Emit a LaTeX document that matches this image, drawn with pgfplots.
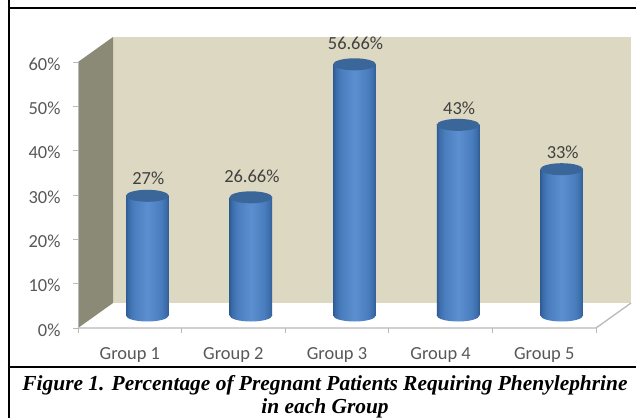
\documentclass[border=0pt]{standalone}
\usepackage{pgfplots}
\usepackage{pgfplotstable}
\pgfplotsset{compat=1.18}
\usepackage{fontspec}
\setmainfont{Carlito}
\newfontfamily\capfont{Liberation Serif}
\definecolor{wall}{HTML}{DCD8C1}
\definecolor{swall}{HTML}{8B8A76}
\definecolor{edge}{HTML}{B9B9B9}
\definecolor{tl}{HTML}{585858}
\definecolor{dl}{HTML}{404040}
\definecolor{bd}{HTML}{3A6699}
\definecolor{ca}{HTML}{2F5C95}
\definecolor{cb}{HTML}{3C6DAA}
\definecolor{cc}{HTML}{4A7DBE}
\definecolor{cd}{HTML}{5B8FD0}
\pgfdeclarehorizontalshading{cyl}{100bp}{
  color(0bp)=(ca);
  color(25bp)=(ca);
  color(28bp)=(cb);
  color(34bp)=(cc);
  color(50bp)=(cd);
  color(66bp)=(cc);
  color(72bp)=(cb);
  color(75bp)=(ca);
  color(100bp)=(ca)}
\pgfdeclareplotmark{cylbase}{\path[draw=none,shading=cyl] (0,0) ellipse (21.3bp and 6bp);}
\pgfdeclareplotmark{cyltop}{\path[draw=none,fill=bd,rotate=4] (0,0) ellipse (21.4bp and 6bp);}
\pgfplotstableread{
x y lab dy
0.5 27 27 18
1.5 26.66 26.66 21
2.5 56.66 56.66 21
3.5 43 43 17
4.5 33 33 17
}\cyltab
\begin{document}
\begin{tikzpicture}[x=1bp,y=1bp]
\useasboundingbox (0,0) rectangle (636,418);
\fill[white] (0,0) rectangle (636,418);
\begin{axis}[
  at={(78bp,90bp)},anchor=south west,
  scale only axis,width=518bp,height=266bp,
  xmin=0,xmax=5,ymin=0,ymax=60,
  clip=false,
  axis line style={draw=none},
  xtick={0.5,1.5,2.5,3.5,4.5},
  xticklabels={Group 1,Group 2,Group 3,Group 4,Group 5},
  ytick={0,10,...,60},
  yticklabel={\pgfmathprintnumber{\tick}\%},
  minor xtick={0,1,2,3,4,5},
  major x tick style={draw=none},
  minor x tick style={draw=edge,line width=0.8bp},
  y tick style={draw=edge,line width=0.8bp},
  tickwidth=5bp,subtickwidth=5bp,
  tick align=outside,
  xtick pos=bottom,ytick pos=left,
  tick label style={font=\fontsize{18.5}{20}\selectfont,text=tl},
  xticklabel style={yshift=-11bp},
  yticklabel style={xshift=-9bp,yshift=-2bp},
  /pgf/number format/assume math mode=true,
]
% back wall, side wall and floor
\addplot[fill=wall,draw=none] coordinates {(0.338,5.64) (5.338,5.64) (5.338,65.64) (0.338,65.64)} -- cycle;
\addplot[fill=swall,draw=none] coordinates {(0,0) (0.338,5.64) (0.338,65.64) (0,60)} -- cycle;
\addplot[draw=edge,line width=1.3bp] coordinates {(0,0) (5,0) (5.338,5.64)};
\addplot[draw=edge,line width=1bp] coordinates {(0,0) (0,60)};
% cylinders
\addplot[only marks,mark=cylbase,xshift=17.5bp,yshift=12.5bp] coordinates {(0.5,0) (1.5,0) (2.5,0) (3.5,0) (4.5,0)};
\addplot[draw=none,shading=cyl,xshift=17.5bp,yshift=12.5bp] coordinates {(0.295,0) (0.295,27) (0.705,27) (0.705,0)} -- cycle;
\addplot[draw=none,shading=cyl,xshift=17.5bp,yshift=12.5bp] coordinates {(1.295,0) (1.295,26.66) (1.705,26.66) (1.705,0)} -- cycle;
\addplot[draw=none,shading=cyl,xshift=17.5bp,yshift=12.5bp] coordinates {(2.295,0) (2.295,56.66) (2.705,56.66) (2.705,0)} -- cycle;
\addplot[draw=none,shading=cyl,xshift=17.5bp,yshift=12.5bp] coordinates {(3.295,0) (3.295,43) (3.705,43) (3.705,0)} -- cycle;
\addplot[draw=none,shading=cyl,xshift=17.5bp,yshift=12.5bp] coordinates {(4.295,0) (4.295,33) (4.705,33) (4.705,0)} -- cycle;
\addplot[only marks,mark=cyltop,xshift=17.5bp,yshift=12.5bp,
  point meta=explicit symbolic,
  visualization depends on={\thisrow{dy}\as\dyv},
  nodes near coords={\pgfplotspointmeta\%},
  nodes near coords align={center},
  every node near coord/.append style={anchor=center,yshift=\dyv bp,xshift=1bp,text=dl,font=\fontsize{18.5}{20}\selectfont},
] table[x=x,y=y,meta=lab] {\cyltab};
\end{axis}
\draw[black,line width=2bp] (8.5,418) -- (8.5,0);
\draw[black,line width=2bp] (7.5,410) -- (636,410);
\draw[black,line width=2bp] (7.5,51) -- (636,51);
\node[font={\capfont\bfseries\itshape\fontsize{21.5}{23.5}\selectfont},align=center] at (325,21) {Figure 1. Percentage of Pregnant Patients Requiring Phenylephrine\\in each Group};
\end{tikzpicture}
\end{document}
